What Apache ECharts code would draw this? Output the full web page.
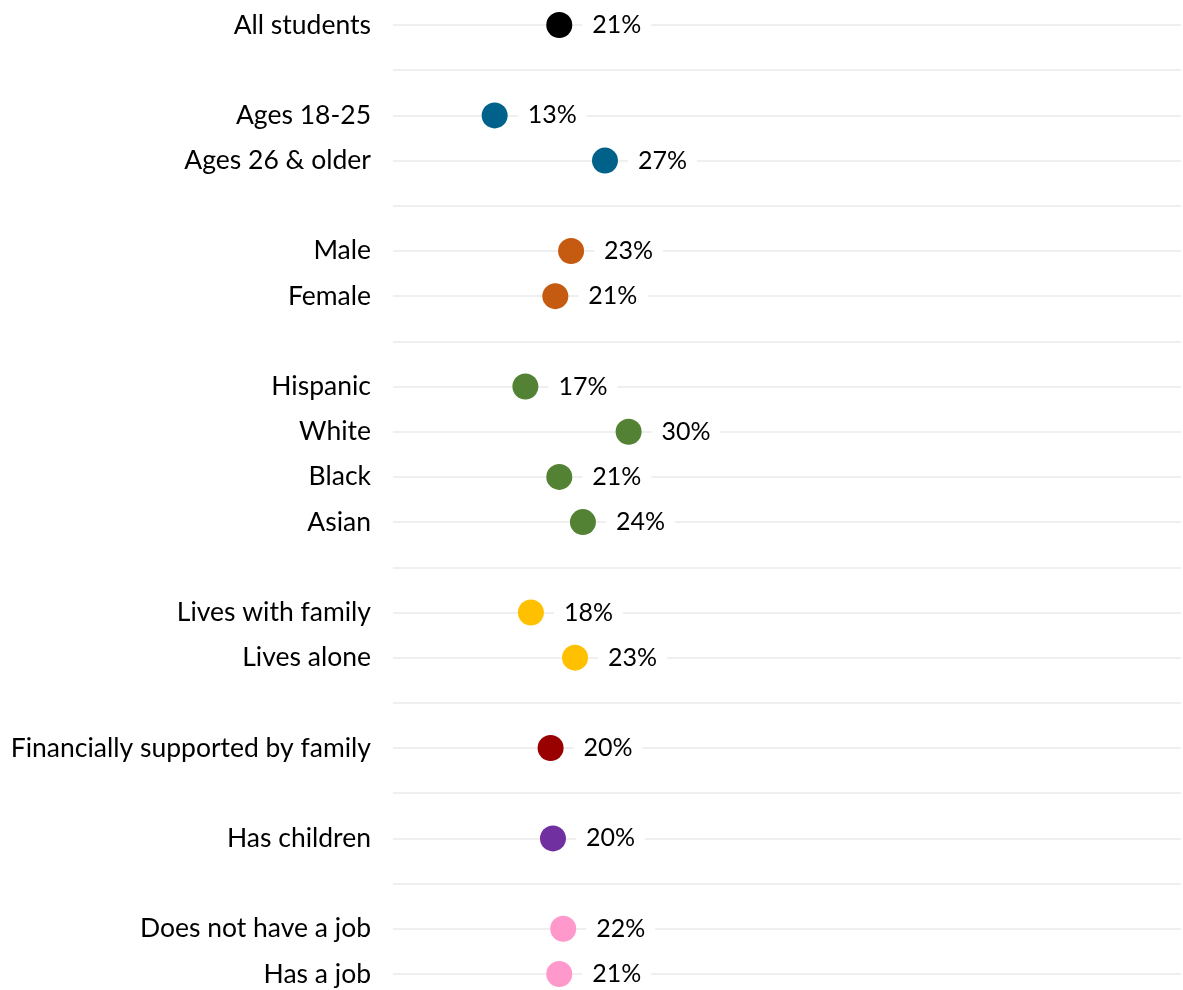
<!DOCTYPE html>
<html>
<head>
<meta charset="utf-8">
<script src="https://cdn.jsdelivr.net/npm/echarts@6/dist/echarts.min.js"></script>
<style>
  html, body { margin: 0; padding: 0; background: #ffffff; }
  #chart { width: 1183px; height: 990px; }
</style>
</head>
<body>
<div id="chart"></div>
<script>
// ---- Data ----
const allLabels = ['All students'];
const allValues = [21.1];

const ageLabels = ['Ages 18-25', 'Ages 26 & older'];
const ageValues = [12.9, 26.9];

const genderLabels = ['Male', 'Female'];
const genderValues = [22.6, 20.6];

const raceLabels = ['Hispanic', 'White', 'Black', 'Asian'];
const raceValues = [16.8, 29.9, 21.1, 24.1];

const livingLabels = ['Lives with family', 'Lives alone'];
const livingValues = [17.5, 23.1];

const financeLabels = ['Financially supported by family'];
const financeValues = [20.0];

const childrenLabels = ['Has children'];
const childrenValues = [20.3];

const jobLabels = ['Does not have a job', 'Has a job'];
const jobValues = [21.6, 21.1];

// ---- Build category list (blank rows separate groups) ----
const groupList = [
  [allLabels, allValues, '#000000'],
  [ageLabels, ageValues, '#00618a'],
  [genderLabels, genderValues, '#c55a11'],
  [raceLabels, raceValues, '#548235'],
  [livingLabels, livingValues, '#ffc000'],
  [financeLabels, financeValues, '#990000'],
  [childrenLabels, childrenValues, '#7030a0'],
  [jobLabels, jobValues, '#ff99cc']
];

const categories = [];
const series = [];
groupList.forEach(function (g, gi) {
  if (gi > 0) categories.push('');
  const data = [];
  g[0].forEach(function (lab, i) {
    categories.push(lab);
    data.push([g[1][i], categories.length - 1]);
  });
  series.push({
    type: 'scatter',
    data: data,
    symbol: 'circle',
    symbolSize: 26,
    clip: false,
    itemStyle: { color: g[2], opacity: 1 },
    label: {
      show: true,
      position: 'right',
      distance: 10,
      formatter: function (p) { return Math.round(p.value[0]) + '%'; },
      color: '#000000',
      fontFamily: 'Lato',
      fontSize: 25,
      backgroundColor: '#ffffff',
      padding: [6, 10, 1, 10]
    },
    emphasis: { disabled: true }
  });
});

const chart = echarts.init(document.getElementById('chart'), null, { renderer: 'canvas' });
chart.setOption({
  animation: false,
  backgroundColor: '#ffffff',
  grid: { left: 393, right: 2, top: 25, bottom: 16, containLabel: false },
  xAxis: {
    type: 'value',
    min: 0,
    max: 100,
    axisLine: { show: false },
    axisTick: { show: false },
    axisLabel: { show: false },
    splitLine: { show: false }
  },
  yAxis: {
    type: 'category',
    data: categories,
    inverse: true,
    boundaryGap: false,
    axisLine: { show: false },
    axisTick: { show: false },
    axisLabel: {
      color: '#000000',
      fontFamily: 'Lato',
      fontSize: 26.5,
      margin: 22,
      interval: 0,
      padding: [5, 0, 0, 0]
    },
    splitLine: { show: true, interval: 0, lineStyle: { color: '#efefef', width: 2 } }
  },
  series: series
});
</script>
</body>
</html>
